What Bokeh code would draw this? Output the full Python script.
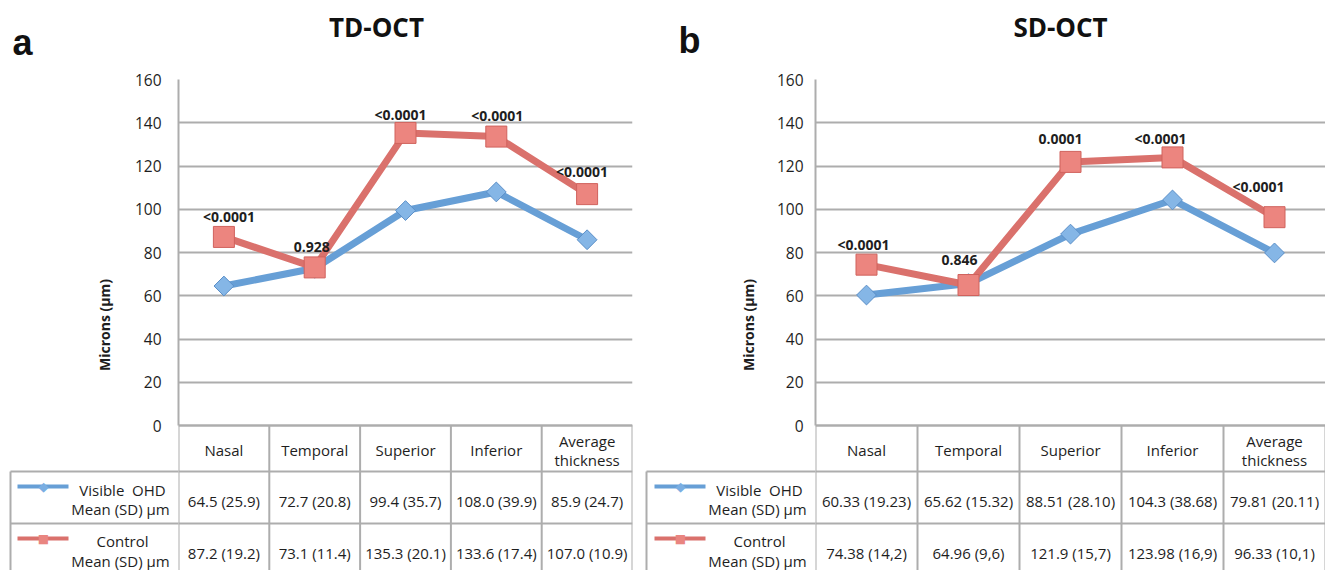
import numpy as np
from bokeh.plotting import figure
from bokeh.models import ColumnDataSource, Range1d, FixedTicker
from bokeh.layouts import row
from bokeh.core.properties import value
from bokeh.embed import file_html
from bokeh.resources import INLINE

# ---------------- data ----------------
CATEGORIES = ["Nasal", "Temporal", "Superior", "Inferior", "Average\nthickness"]
Y_TICKS = [0, 20, 40, 60, 80, 100, 120, 140, 160]
SERIES_LABELS = ["Visible\u00a0 OHD\nMean (SD) µm", "Control\nMean (SD) µm"]

TD_VISIBLE = [64.5, 72.7, 99.4, 108.0, 85.9]
TD_CONTROL = [87.2, 73.1, 135.3, 133.6, 107.0]
TD_P = ["<0.0001", "0.928", "<0.0001", "<0.0001", "<0.0001"]
TD_VISIBLE_CELLS = ["64.5 (25.9)", "72.7 (20.8)", "99.4 (35.7)", "108.0 (39.9)", "85.9 (24.7)"]
TD_CONTROL_CELLS = ["87.2 (19.2)", "73.1 (11.4)", "135.3 (20.1)", "133.6 (17.4)", "107.0 (10.9)"]

SD_VISIBLE = [60.33, 65.62, 88.51, 104.3, 79.81]
SD_CONTROL = [74.38, 64.96, 121.9, 123.98, 96.33]
SD_P = ["<0.0001", "0.846", "0.0001", "<0.0001", "<0.0001"]
SD_VISIBLE_CELLS = ["60.33 (19.23)", "65.62 (15.32)", "88.51 (28.10)", "104.3 (38.68)", "79.81 (20.11)"]
SD_CONTROL_CELLS = ["74.38 (14,2)", "64.96 (9,6)", "121.9 (15,7)", "123.98 (16,9)", "96.33 (10,1)"]

# ---------------- style ----------------
BLUE_LINE, BLUE_FILL, BLUE_EDGE = "#679FD6", "#85B6E6", "#5B8FC8"
RED_LINE, RED_FILL, RED_EDGE = "#DA716C", "#EC857F", "#D0625D"
GRID = "#ADADAD"
TXT = "#1E1E1E"
FONT = "Open Sans"

FIG_H = 570
TOP_Y = 79
ZERO_Y = 425
PXU = (ZERO_Y - TOP_Y) / 160.0
ROW_LINES = [471, 523]
ROW_TEXT_Y = [(489, 508), (540, 560)]
CELL_Y = [500, 552]
KEY_Y = [486, 538]


def make_panel(letter, title, visible, control, pvals, vcells, ccells,
               fig_left, fig_w, plot_left, plot_right, table_left, title_x,
               letter_x, letter_y, p_dx, p_dy, tick_standoff, label_standoff):
    cw = (plot_right - plot_left) / 5.0
    frame_h = FIG_H - TOP_Y
    y_bottom = 160 - frame_h / PXU

    def X(px):
        return (px - plot_left) / cw

    def Y(py):
        return (ZERO_Y - py) / PXU

    p = figure(width=fig_w, height=FIG_H, x_range=Range1d(0, 5),
               y_range=Range1d(y_bottom, 160), x_axis_type=None,
               output_backend="svg", toolbar_location=None,
               min_border_left=plot_left - fig_left,
               min_border_right=fig_left + fig_w - plot_right,
               min_border_top=TOP_Y, min_border_bottom=0)
    p.outline_line_color = None
    p.background_fill_color = "white"
    p.border_fill_color = "white"

    ax = p.yaxis[0]
    ax.ticker = FixedTicker(ticks=Y_TICKS)
    ax.bounds = (0, 160)
    ax.axis_line_color = GRID
    ax.axis_line_width = 2
    ax.major_tick_out = 0
    ax.major_tick_in = 0
    ax.minor_tick_line_color = None
    ax.major_label_standoff = tick_standoff
    ax.major_label_text_font = FONT
    ax.major_label_text_font_size = "15.5px"
    ax.major_label_text_color = TXT
    ax.axis_label = "Microns (µm)"
    ax.axis_label_text_font = FONT
    ax.axis_label_text_font_style = "bold"
    ax.axis_label_text_font_size = "14px"
    ax.axis_label_text_color = TXT
    ax.axis_label_standoff = label_standoff

    p.ygrid.ticker = FixedTicker(ticks=Y_TICKS)
    p.ygrid.grid_line_color = GRID
    p.ygrid.grid_line_width = 2

    xs = [i + 0.5 for i in range(len(CATEGORIES))]

    def txt(x, y, t, size="15px", style="normal", align="center", level="glyph",
            font=FONT, color=TXT):
        src = ColumnDataSource(dict(x=x, y=y, t=t))
        p.text(x="x", y="y", text="t", source=src, text_font=value(font),
               text_font_size=size, text_font_style=style, text_color=color,
               text_align=align, text_baseline="middle", level=level)

    # ---------- table (inside frame) ----------
    hy = [0.0] + [Y(v) for v in ROW_LINES]
    p.segment(x0=[0] * len(hy), y0=hy, x1=[5] * len(hy), y1=hy,
              line_color=GRID, line_width=2)
    vx = list(range(6))
    p.segment(x0=vx, y0=[0] * 6, x1=vx, y1=[y_bottom] * 6,
              line_color=GRID, line_width=2)

    hx, hyy, ht = [], [], []
    for x, cat in zip(xs, CATEGORIES):
        parts = cat.split("\n")
        if len(parts) == 1:
            hx.append(x); hyy.append(Y(449)); ht.append(parts[0])
        else:
            hx += [x, x]; hyy += [Y(440), Y(459)]; ht += parts
    txt(hx, hyy, ht)
    txt(xs + xs, [Y(CELL_Y[0])] * 5 + [Y(CELL_Y[1])] * 5,
        list(vcells) + list(ccells))

    # ---------- table row-label column (outside frame) ----------
    ly = [Y(v) for v in ROW_LINES]
    p.segment(x0=[X(table_left)] * len(ly), y0=ly, x1=[0] * len(ly), y1=ly,
              line_color=GRID, line_width=2, level="overlay")
    p.segment(x0=[X(table_left)], y0=[Y(ROW_LINES[0])], x1=[X(table_left)],
              y1=[y_bottom], line_color=GRID, line_width=2, level="overlay")
    rx, ry, rt = [], [], []
    for lab, (y1, y2) in zip(SERIES_LABELS, ROW_TEXT_Y):
        a, b = lab.split("\n")
        rx += [X(plot_left - 56), X(plot_left - 58)]
        ry += [Y(y1), Y(y2)]
        rt += [a, b]
    txt(rx, ry, rt, level="overlay")

    kx0, kx1, km = X(plot_left - 161), X(plot_left - 110), X(plot_left - 135)
    p.line([kx0, kx1], [Y(KEY_Y[0])] * 2, line_color=BLUE_LINE, line_width=4,
           level="overlay")
    p.line([kx0, kx1], [Y(KEY_Y[1])] * 2, line_color=RED_LINE, line_width=4,
           level="overlay")
    txt([km], [Y(KEY_Y[0])], ["◆"], size="13px", level="overlay",
        font="DejaVu Sans", color="#7AAEE2")
    txt([km], [Y(KEY_Y[1])], ["■"], size="12px", level="overlay",
        font="DejaVu Sans", color="#E98580")

    # ---------- series ----------
    src = ColumnDataSource(dict(x=xs, v=visible, c=control, p=pvals,
                                dx=p_dx, dy=p_dy))
    p.line(x="x", y="v", source=src, line_color=BLUE_LINE, line_width=7,
           line_join="round")
    p.scatter(x="x", y="v", source=src, marker="square", angle=np.pi / 4,
              size=14, fill_color=BLUE_FILL, line_color=BLUE_EDGE, line_width=1)
    p.line(x="x", y="c", source=src, line_color=RED_LINE, line_width=7,
           line_join="round")
    p.scatter(x="x", y="c", source=src, marker="square", size=21,
              fill_color=RED_FILL, line_color=RED_EDGE, line_width=1)
    p.text(x="x", y="c", text="p", source=src, x_offset="dx", y_offset="dy",
           text_font=value(FONT), text_font_style="bold", text_font_size="14px",
           text_color=TXT, text_align="center", text_baseline="middle")

    # ---------- headings (outside frame) ----------
    txt([X(title_x)], [Y(26)], [title], size="26px", style="bold",
        level="overlay", color="#111111")
    src_l = ColumnDataSource(dict(x=[X(letter_x)], y=[Y(letter_y)], t=[letter]))
    p.text(x="x", y="y", text="t", source=src_l, text_font=value("Liberation Sans"),
           text_font_size="36px", text_font_style="bold", text_color="#111111",
           text_align="left", text_baseline="alphabetic", level="overlay")
    return p


p1 = make_panel("a", "TD-OCT", TD_VISIBLE, TD_CONTROL, TD_P,
                TD_VISIBLE_CELLS, TD_CONTROL_CELLS,
                fig_left=0, fig_w=640, plot_left=178, plot_right=632,
                table_left=10, title_x=376, letter_x=12, letter_y=42,
                p_dx=[5, -3, -5, 1, -5], p_dy=[-20, -20, -18, -21, -23],
                tick_standoff=17, label_standoff=18)
p2 = make_panel("b", "SD-OCT", SD_VISIBLE, SD_CONTROL, SD_P,
                SD_VISIBLE_CELLS, SD_CONTROL_CELLS,
                fig_left=640, fig_w=685, plot_left=815, plot_right=1325,
                table_left=646, title_x=1060, letter_x=678, letter_y=40,
                p_dx=[-3, -9, -10, -12, -16], p_dy=[-20, -25, -23, -19, -31],
                tick_standoff=12, label_standoff=16)

layout = row(p1, p2)
open("out.html", "w").write(file_html(layout, INLINE))
